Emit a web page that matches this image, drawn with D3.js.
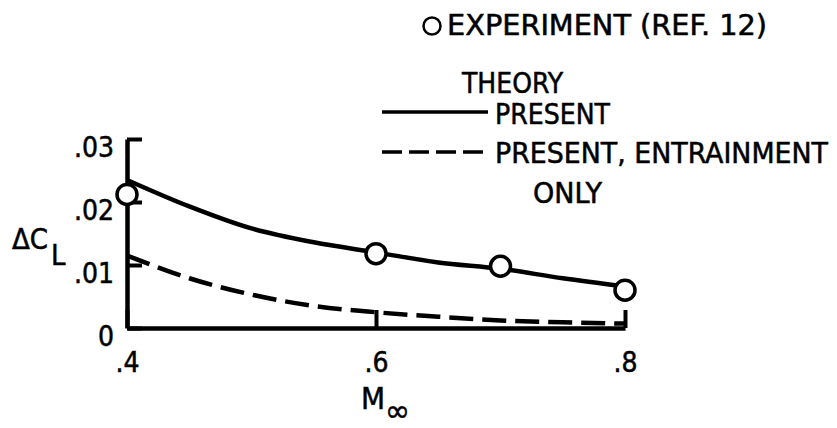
<!DOCTYPE html>
<html>
<head>
<meta charset="utf-8">
<script src="https://cdn.jsdelivr.net/npm/d3@7"></script>
<style>
  body { margin: 0; background: #fff; }
  svg text { font-family: "DejaVu Sans Condensed", "Liberation Sans Narrow", sans-serif; fill: #000; stroke: #000; stroke-width: 0.5; }
</style>
</head>
<body>
<svg id="chart" width="837" height="428"></svg>
<script>
// theory curves
var mach = [0.4, 0.45, 0.5, 0.55, 0.6, 0.65, 0.7, 0.75, 0.8]
var present = [0.0235, 0.0193, 0.0158, 0.0136, 0.0120, 0.0104, 0.0094, 0.0079, 0.0066]
var entrainmentOnly = [0.0115, 0.0079, 0.0053, 0.0035, 0.0025, 0.0018, 0.0012, 0.0009, 0.0007]

// experiment (ref. 12)
var expMach = [0.4, 0.6, 0.7, 0.8]
var expDCL = [0.0212, 0.0118, 0.0098, 0.0060]

var xTicks = [0.4, 0.6, 0.8]
var yTicks = [0, 0.01, 0.02, 0.03]

var svg = d3.select("#chart")

var x = d3.scaleLinear().domain([0.4, 0.8]).range([127, 625])
var y = d3.scaleLinear().domain([0, 0.03]).range([328, 139])

var noZero = function(d){ return d == 0 ? "0" : d3.format(".2~f")(d).replace(/^0/, "") }

/*
  Axes
*/
var xAxis = d3.axisBottom(x)
  .tickValues(xTicks)
  .tickSizeInner(-18)
  .tickSizeOuter(0)
  .tickPadding(24)
  .tickFormat(function(d){ return d3.format(".1f")(d).replace(/^0/, "") })

var yAxis = d3.axisLeft(y)
  .tickValues(yTicks)
  .tickSizeInner(-15)
  .tickSizeOuter(0)
  .tickPadding(13)
  .tickFormat(noZero)

var gx = svg.append("g").attr("transform", "translate(0," + y(0) + ")").call(xAxis)
var gy = svg.append("g").attr("transform", "translate(" + x(0.4) + ",0)").call(yAxis)

;[gx, gy].forEach(function(g){
  g.select(".domain").attr("stroke", "#000").attr("stroke-width", 4.5)
  g.selectAll(".tick line").attr("stroke", "#000").attr("stroke-width", 4)
  g.selectAll(".tick text").attr("font-size", 28).attr("fill", "#000")
    .attr("font-family", "DejaVu Sans Condensed")
})
gy.selectAll(".tick text").attr("dy", "0.62em")

/*
  Curves
*/
var line = d3.line()
  .x(function(d){ return x(d[0]) })
  .y(function(d){ return y(d[1]) })
  .curve(d3.curveMonotoneX)

svg.append("path")
  .datum(d3.zip(mach, present))
  .attr("d", line)
  .attr("fill", "none")
  .attr("stroke", "#000")
  .attr("stroke-width", 4.5)

svg.append("path")
  .datum(d3.zip(mach, entrainmentOnly))
  .attr("d", line)
  .attr("fill", "none")
  .attr("stroke", "#000")
  .attr("stroke-width", 4.5)
  .attr("stroke-dasharray", "24,9")

svg.selectAll("circle.exp")
  .data(d3.zip(expMach, expDCL))
  .enter()
  .append("circle")
  .attr("class", "exp")
  .attr("cx", function(d){ return x(d[0]) })
  .attr("cy", function(d){ return y(d[1]) })
  .attr("r", 10)
  .attr("fill", "#fff")
  .attr("stroke", "#000")
  .attr("stroke-width", 3.5)

/*
  Axis titles
*/
var yt = svg.append("text").attr("x", 12).attr("y", 249).attr("font-size", 29)
yt.append("tspan").text("ΔC")
yt.append("tspan").attr("dy", 16).attr("dx", 3).text("L")

var xt = svg.append("text").attr("x", 361).attr("y", 409).attr("font-size", 31)
xt.append("tspan").text("M")
xt.append("tspan").attr("dy", 12).attr("font-size", 30).attr("font-family", "DejaVu Sans").text("∞")

/*
  Legend
*/
svg.append("circle").attr("cx", 432).attr("cy", 26).attr("r", 8.5)
  .attr("fill", "none").attr("stroke", "#000").attr("stroke-width", 2.5)

var legendText = [
  {t: "EXPERIMENT (REF. 12)", x: 447, y: 35, w: 320},
  {t: "THEORY", x: 462, y: 93, w: 101},
  {t: "PRESENT", x: 495, y: 124, w: 115},
  {t: "PRESENT, ENTRAINMENT", x: 495, y: 163, w: 333},
  {t: "ONLY", x: 533, y: 203, w: 69}
]

svg.selectAll("text.legend")
  .data(legendText)
  .enter()
  .append("text")
  .attr("class", "legend")
  .attr("x", function(d){ return d.x })
  .attr("y", function(d){ return d.y })
  .attr("font-size", 28)
  .attr("textLength", function(d){ return d.w })
  .attr("lengthAdjust", "spacingAndGlyphs")
  .text(function(d){ return d.t })

svg.append("line").attr("x1", 382).attr("x2", 488).attr("y1", 112).attr("y2", 112)
  .attr("stroke", "#000").attr("stroke-width", 3.5)

svg.append("line").attr("x1", 382).attr("x2", 488).attr("y1", 152).attr("y2", 152)
  .attr("stroke", "#000").attr("stroke-width", 3.5).attr("stroke-dasharray", "20,7")
</script>
</body>
</html>
